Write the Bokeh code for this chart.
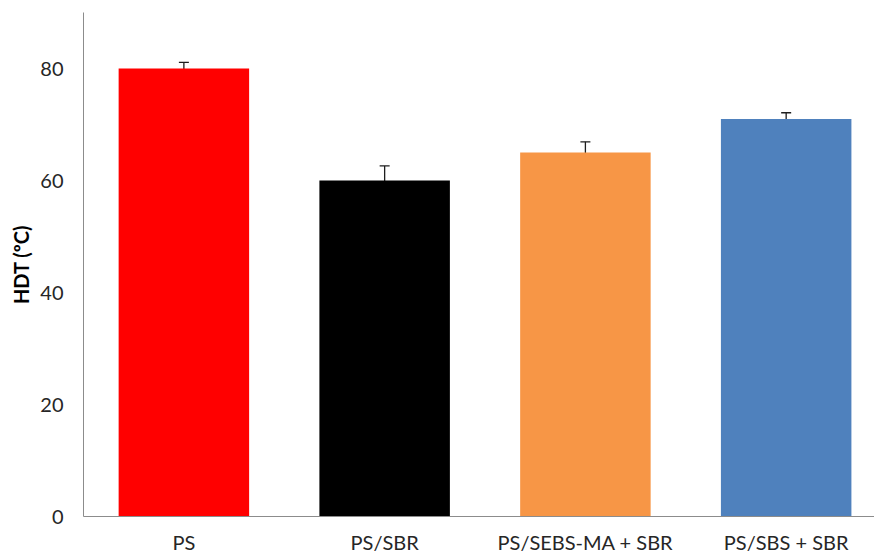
from bokeh.plotting import figure
from bokeh.models import ColumnDataSource, Range1d, FixedTicker, Whisker, TeeHead, Title
from bokeh.embed import file_html
from bokeh.resources import INLINE

categories = ["PS", "PS/SBR", "PS/SEBS-MA + SBR", "PS/SBS + SBR"]
hdt = [80, 60, 65, 71]
err_up = [1.1, 2.6, 1.9, 1.1]
err_down = [1.0, 2.6, 1.0, 1.0]
colors = ["#FF0000", "#000000", "#F79646", "#4F81BD"]
y_ticks = [0, 20, 40, 60, 80]

xs = list(range(len(categories)))
src = ColumnDataSource(dict(
    x=xs, top=hdt, color=colors,
    upper=[v + e for v, e in zip(hdt, err_up)],
    lower=[v - e for v, e in zip(hdt, err_down)],
))

FONT = "Lato"
p = figure(width=874, height=556, output_backend="svg", toolbar_location=None,
           x_range=Range1d(-0.5, 3.44), y_range=Range1d(0, 90),
           min_border_left=83, min_border_right=0, min_border_top=12, min_border_bottom=0)
p.outline_line_color = None
p.xgrid.grid_line_color = None
p.ygrid.grid_line_color = None

p.vbar(x="x", top="top", width=0.65, fill_color="color", line_color=None, source=src)

wc = "#1E1E1E"
w = Whisker(source=src, base="x", upper="upper", lower="lower", line_color=wc, line_width=1.3,
            upper_head=TeeHead(size=10, line_color=wc, line_width=1.3),
            lower_head=TeeHead(size=10, line_color=wc, line_width=1.3))
p.add_layout(w)

p.xaxis.ticker = FixedTicker(ticks=xs)
p.xaxis.major_label_overrides = {i: c for i, c in enumerate(categories)}
p.yaxis.ticker = FixedTicker(ticks=y_ticks)

for ax in (p.xaxis[0], p.yaxis[0]):
    ax.axis_line_color = "#8C8C8C"
    ax.axis_line_width = 1
    ax.major_tick_line_color = None
    ax.minor_tick_line_color = None
    ax.major_tick_out = 0
    ax.major_tick_in = 0
    ax.minor_tick_out = 0
    ax.minor_tick_in = 0
    ax.major_label_text_font = FONT
    ax.major_label_text_font_size = "20px"
    ax.major_label_text_color = "#262626"

p.xaxis.major_label_standoff = 13
p.yaxis.major_label_standoff = 20

ytitle = Title(text="HDT (ºC)", align="center", offset=-30, standoff=9,
               text_font=FONT, text_font_style="bold", text_font_size="20px",
               text_color="#000000")
p.add_layout(ytitle, "left")

open("out.html", "w").write(file_html(p, INLINE))
